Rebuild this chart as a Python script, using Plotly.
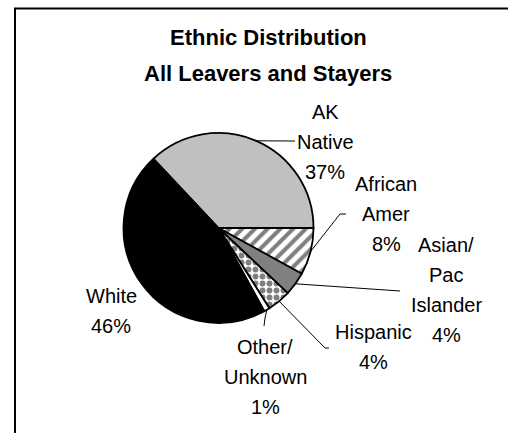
import math
import plotly.graph_objects as go

# Data
groups = ["AK Native", "African Amer", "Asian/ Pac Islander", "Hispanic", "Other/ Unknown", "White"]
label_lines = [["AK", "Native"], ["African", "Amer"], ["Asian/", "Pac", "Islander"],
               ["Hispanic"], ["Other/", "Unknown"], ["White"]]
shares = [37, 8, 4, 4, 1, 46]

fill_colors = ["#c0c0c0", "white", "#808080", "white", "white", "black"]
patterns = ["", "/", "", ".", "", ""]

W, H = 508, 433
cx, cy, R = 218.5, 228, 95

total = sum(shares)
# first boundary (AK Native / African Amer) sits at 3 o'clock
rotation = 90 - 360 * shares[0] / total

fig = go.Figure()
fig.add_trace(go.Pie(
    labels=groups,
    values=shares,
    sort=False,
    direction="clockwise",
    rotation=rotation,
    textinfo="none",
    hoverinfo="label+percent",
    showlegend=False,
    domain=dict(x=[(cx - R) / W, (cx + R) / W], y=[1 - (cy + R) / H, 1 - (cy - R) / H]),
    marker=dict(
        colors=fill_colors,
        line=dict(color="black", width=1.8),
        pattern=dict(shape=patterns, fillmode="overlay", fgcolor="black",
                     size=[8, 9, 8, 7, 8, 8], solidity=[0.3, 0.45, 0.3, 0.55, 0.3, 0.3]),
    ),
))

# label placement: block centre x, first line y, leader elbow points
label_pos = {
    "AK Native": (325, 112, [(295, 141)]),
    "African Amer": (386, 184, [(340, 214), (346, 214)]),
    "Asian/ Pac Islander": (446, 245, [(400, 291)]),
    "Hispanic": (373, 332, [(325, 348), (329, 348)]),
    "Other/ Unknown": (265, 347, [(265, 318), (264, 326)]),
    "White": (111, 296, None),
}
line_gap = 30
font = dict(family="Liberation Sans, Arial, sans-serif", size=20, color="black")

annotations = []
shapes = []
start = 90 - rotation
for name, lines, v in zip(groups, label_lines, shares):
    span = 360 * v / total
    mid = math.radians(start - span / 2)
    start -= span
    px, py = cx + R * math.cos(mid), cy - R * math.sin(mid)
    x0, y0, leader = label_pos[name]
    text_rows = lines + [f"{v / total:.0%}"]
    for i, row in enumerate(text_rows):
        annotations.append(dict(x=x0, y=y0 + i * line_gap, xref="x", yref="y", text=row,
                                showarrow=False, font=font, xanchor="center", yanchor="middle"))
    if leader:
        path = f"M{px:.1f},{py:.1f}" + "".join(f" L{x},{y}" for x, y in leader)
        shapes.append(dict(type="path", path=path, xref="x", yref="y",
                           line=dict(color="black", width=1)))

# title, two lines
title_font = dict(family="Liberation Sans, Arial, sans-serif", size=22, color="black")
for i, row in enumerate(["<b>Ethnic Distribution</b>", "<b>All Leavers and Stayers</b>"]):
    annotations.append(dict(x=268, y=37 + i * 36, xref="x", yref="y", text=row, showarrow=False,
                            font=title_font, xanchor="center", yanchor="middle"))

# chart frame (runs off the right and bottom edges)
shapes.append(dict(type="path", path="M15,440 L15,8.5 L515,8.5", xref="x", yref="y",
                   line=dict(color="black", width=2)))

fig.update_layout(
    width=W, height=H,
    margin=dict(l=0, r=0, t=0, b=0),
    paper_bgcolor="white", plot_bgcolor="white",
    xaxis=dict(range=[0, W], visible=False, fixedrange=True),
    yaxis=dict(range=[H, 0], visible=False, fixedrange=True),
    annotations=annotations,
    shapes=shapes,
)

fig.write_html("out.html", config={"displayModeBar": False},
               post_script="document.body.style.margin = '0px';")
